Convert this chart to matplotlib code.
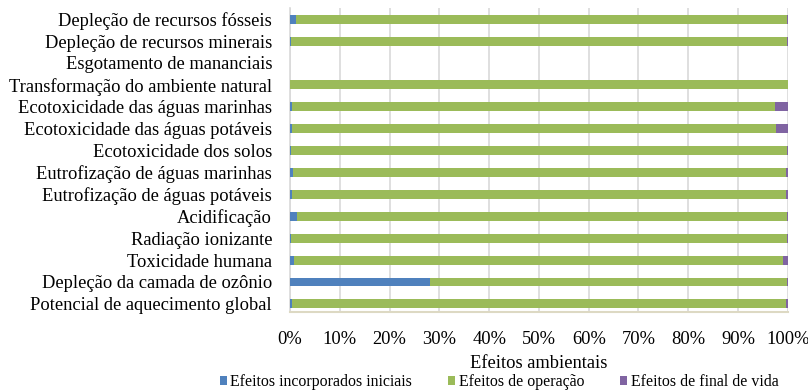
import numpy as np
import matplotlib.pyplot as plt
from matplotlib.ticker import PercentFormatter

plt.rcParams['font.family'] = ['Liberation Serif', 'DejaVu Serif']

# impact categories, listed bottom to top
categorias = [
    'Potencial de aquecimento global',
    'Depleção da camada de ozônio',
    'Toxicidade humana',
    'Radiação ionizante',
    'Acidificação',
    'Eutrofização de águas potáveis',
    'Eutrofização de águas marinhas',
    'Ecotoxicidade dos solos',
    'Ecotoxicidade das águas potáveis',
    'Ecotoxicidade das águas marinhas',
    'Transformação do ambiente natural',
    'Esgotamento de mananciais',
    'Depleção de recursos minerais',
    'Depleção de recursos fósseis',
]

# share of each life-cycle stage (%)
incorporados = [0.3, 28.2, 0.8, 0.1, 1.3, 0.3, 0.6, 0.1, 0.4, 0.4, 0.05, 0.0, 0.1, 1.2]
final_vida = [0.3, 0.1, 0.9, 0.1, 0.1, 0.3, 0.4, 0.1, 2.4, 2.6, 0.05, 0.0, 0.2, 0.1]
operacao = [0 if (a == 0 and c == 0) else 100 - a - c
            for a, c in zip(incorporados, final_vida)]

series = ['Efeitos incorporados iniciais', 'Efeitos de operação', 'Efeitos de final de vida']
cores = ['#4f81bd', '#9bbb59', '#8064a2']

fig = plt.figure(figsize=(8.08, 3.9), dpi=100)
ax = fig.add_axes([0.359, 0.2, 0.616, 0.779])

y = np.arange(len(categorias))
left = np.zeros(len(categorias))
for nome, vals, cor in zip(series, [incorporados, operacao, final_vida], cores):
    vals = np.array(vals, dtype=float)
    ax.barh(y, vals, left=left, height=0.41, color=cor, label=nome, zorder=3)
    left += vals

ax.set_xlim(0, 100)
ax.set_ylim(-0.37, len(categorias) - 0.5)
ax.set_xticks(np.arange(0, 101, 10))
ax.xaxis.set_major_formatter(PercentFormatter(decimals=0))
ax.set_yticks(y)
ax.set_yticklabels(categorias)
ax.tick_params(axis='both', length=0, labelsize=13.3)
ax.tick_params(axis='y', pad=13)
ax.tick_params(axis='x', pad=14)
ax.grid(axis='x', color='#d9d9d9', linewidth=1.2, zorder=0)

for s in ['top', 'right']:
    ax.spines[s].set_visible(False)
ax.spines['left'].set_color('#d9d9d9')
ax.spines['left'].set_linewidth(1.2)
ax.spines['bottom'].set_color('#ddd9c3')
ax.spines['bottom'].set_linewidth(1.5)

ax.set_xlabel('Efeitos ambientais', fontsize=13.3, labelpad=5)

handles, labels = ax.get_legend_handles_labels()
fig.legend(handles, labels, loc='upper left', bbox_to_anchor=(220 / 808, 1 - 374 / 390),
           ncol=3, frameon=False, fontsize=11.4, handlelength=0.44, handleheight=0.44,
           handletextpad=0.2, columnspacing=2.3, borderaxespad=0, borderpad=0)

fig.savefig('out.png', dpi=100)
